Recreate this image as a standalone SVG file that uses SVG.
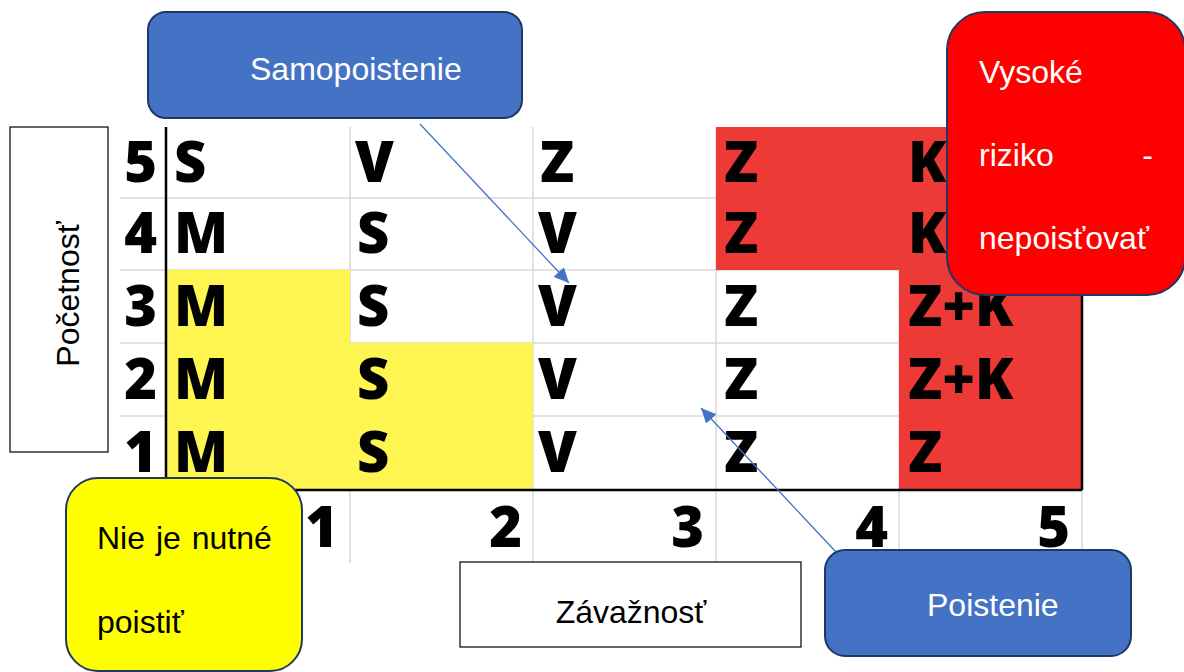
<svg xmlns="http://www.w3.org/2000/svg" width="1184" height="672" viewBox="0 0 1184 672">
<style>
.grid{stroke:#D9D9D9;stroke-width:1.5;fill:none}
.axis{stroke:#000;stroke-width:2.5;fill:none}
.cell{font-family:"Open Sans","Liberation Sans",sans-serif;font-weight:800;font-size:56px;fill:#000}
.num{font-family:"Open Sans","Liberation Sans",sans-serif;font-weight:800;font-size:56px;fill:#000;text-anchor:end}
.lbl{font-family:"Liberation Sans",Arial,sans-serif;font-size:32px}
.box{stroke:#1F3864;stroke-width:2}
.conn{stroke:#4472C4;stroke-width:1.3;fill:none}
</style>
<defs>
<marker id="ah" markerUnits="userSpaceOnUse" markerWidth="16" markerHeight="14" refX="15" refY="7" orient="auto">
<path d="M0,0 L15,7 L0,14 z" fill="#4472C4"/>
</marker>
</defs>
<g id="matrix">
<g class="grid">
<path d="M120,198H1082M120,270H1082M120,343H1082M120,416H1082"/>
<path d="M350,127V563M533,127V563M716,127V563M899,127V563M1082,490V563"/>
</g>
<rect x="166" y="270" width="184" height="220" fill="#FFF550"/>
<rect x="350" y="343" width="183" height="147" fill="#FFF550"/>
<rect x="716" y="127" width="366" height="143" fill="#EE3A36"/>
<rect x="899" y="270" width="183" height="220" fill="#EE3A36"/>
<path class="axis" d="M166,127V563M166,490H1082M1082,127V490"/>
<g class="num">
<text x="157" y="182">5</text>
<text x="157" y="253">4</text>
<text x="157" y="326">3</text>
<text x="157" y="399">2</text>
<text x="157" y="472">1</text>
<text x="338" y="547">1</text>
<text x="522" y="547">2</text>
<text x="704" y="547">3</text>
<text x="888" y="547">4</text>
<text x="1070" y="547">5</text>
</g>
<g class="cell">
<text x="174" y="182">S</text><text x="355" y="182">V</text><text x="540" y="182">Z</text><text x="724" y="182">Z</text><text x="908" y="182">K</text>
<text x="174" y="253">M</text><text x="357" y="253">S</text><text x="538" y="253">V</text><text x="724" y="253">Z</text><text x="908" y="253">K</text>
<text x="174" y="326">M</text><text x="357" y="326">S</text><text x="538" y="326">V</text><text x="724" y="326">Z</text><text x="908" y="326">Z+K</text>
<text x="174" y="399">M</text><text x="357" y="399">S</text><text x="538" y="399">V</text><text x="724" y="399">Z</text><text x="908" y="399">Z+K</text>
<text x="174" y="472">M</text><text x="357" y="472">S</text><text x="538" y="472">V</text><text x="724" y="472">Z</text><text x="908" y="472">Z</text>
</g>
</g>
<g id="connectors">
<line class="conn" x1="420" y1="124" x2="569" y2="283" marker-end="url(#ah)"/>
<line class="conn" x1="836" y1="552" x2="701" y2="408" marker-end="url(#ah)"/>
</g>
<g id="pocetnost">
<rect x="10" y="127" width="98" height="325" fill="#fff" stroke="#000" stroke-width="1.2"/>
<text class="lbl" transform="translate(79,294) rotate(-90)" text-anchor="middle" fill="#000">Početnosť</text>
</g>
<g id="zavaznost">
<rect x="460" y="562" width="341" height="85" fill="#fff" stroke="#000" stroke-width="1.2"/>
<text class="lbl" x="631" y="623" text-anchor="middle" fill="#000">Závažnosť</text>
</g>
<g id="samopoistenie">
<rect class="box" x="148" y="12" width="374" height="106" rx="18" fill="#4472C4"/>
<text class="lbl" x="250" y="80" fill="#fff">Samopoistenie</text>
</g>
<g id="poistenie">
<rect class="box" x="825" y="550" width="306" height="106" rx="20" fill="#4472C4"/>
<text class="lbl" x="927" y="616" fill="#fff">Poistenie</text>
</g>
<g id="vysoke">
<rect class="box" x="947" y="12" width="238" height="283" rx="38" fill="#FF0000"/>
<text class="lbl" x="979" y="83" fill="#fff">Vysoké</text>
<text class="lbl" x="979" y="166" fill="#fff">riziko</text>
<text class="lbl" x="1153" y="166" fill="#fff" text-anchor="end">-</text>
<text class="lbl" x="979" y="249" fill="#fff">nepoisťovať</text>
</g>
<g id="nie-je-nutne">
<rect class="box" x="66" y="478" width="236" height="193" rx="32" fill="#FFFF00"/>
<text class="lbl" x="97" y="549" fill="#000" word-spacing="2">Nie je nutné</text>
<text class="lbl" x="97" y="633" fill="#000">poistiť</text>
</g>
</svg>
